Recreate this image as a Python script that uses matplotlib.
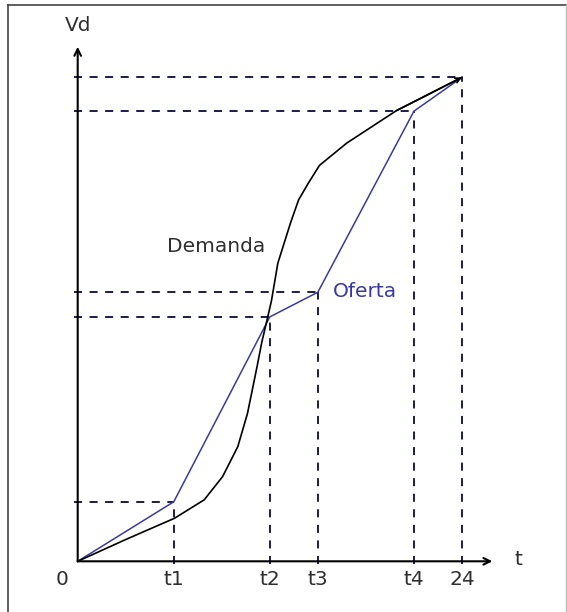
import matplotlib
matplotlib.use("Agg")
import matplotlib.pyplot as plt
from matplotlib.lines import Line2D

plt.rcParams['font.family'] = ['DejaVu Sans']
plt.rcParams['lines.scale_dashes'] = False

# ---- data ----
tick_labels = ["0", "t1", "t2", "t3", "t4", "24"]
tick_pos = [0, 6, 12, 15, 21, 24]

oferta_x = [0, 6, 12, 15, 21, 24]
oferta_y = [0, 12.3, 50.5, 55.6, 93.0, 100]

demanda_x = [0, 3, 6.05, 7.9, 9.05, 10.0, 10.6, 11.2, 11.5, 11.8, 12.1, 12.5,
             13.3, 13.8, 14.4, 15.1, 16.8, 19.9, 24]
demanda_y = [0, 4.5, 8.9, 12.7, 17.5, 23.7, 30.5, 40.2, 45.3, 49.5, 53.8, 61.6,
             70.0, 74.7, 78.1, 81.8, 86.4, 93.1, 100]

W, H = 567, 612
fig = plt.figure(figsize=(W / 100, H / 100), dpi=100)
ax = fig.add_axes([0, 0, 1, 1])
ax.set_xlim(-4.853, 30.56)
ax.set_ylim(-10.475, 115.97)
ax.axis('off')

# frame around the picture
fig.add_artist(Line2D([8 / W, 8 / W], [0, 1 - 5 / H], transform=fig.transFigure,
                      color='#444444', lw=1.2))
fig.add_artist(Line2D([8 / W, 566 / W], [1 - 5 / H, 1 - 5 / H], transform=fig.transFigure,
                      color='#444444', lw=1.2))
fig.add_artist(Line2D([566 / W, 566 / W], [0, 1 - 5 / H], transform=fig.transFigure,
                      color='#bbbbbb', lw=1.0))

dash_col = '#1c1c48'
dash = (0, (5.8, 5.4))

# guide lines
for xp, yp in zip(oferta_x[1:], oferta_y[1:]):
    ax.plot([-0.2, xp], [yp, yp], color=dash_col, lw=1.4, linestyle=dash)
    ax.plot([xp, xp], [-0.5, yp], color=dash_col, lw=1.4, linestyle=dash)

# axes with arrows
ax.annotate('', xy=(0, 106.3), xytext=(0, 0),
            arrowprops=dict(arrowstyle='->', lw=1.5, color='black',
                            shrinkA=0, shrinkB=0, mutation_scale=12))
ax.annotate('', xy=(25.9, 0), xytext=(0, 0),
            arrowprops=dict(arrowstyle='->', lw=1.5, color='black',
                            shrinkA=0, shrinkB=0, mutation_scale=12))

# curves
ax.plot(oferta_x, oferta_y, color='#3a3a9c', lw=1.1)
ax.plot(demanda_x, demanda_y, color='black', lw=1.2)
ax.annotate('', xy=(demanda_x[-1], demanda_y[-1]), xytext=(demanda_x[-2], demanda_y[-2]),
            arrowprops=dict(arrowstyle='->', lw=1.2, color='black',
                            shrinkA=0, shrinkB=0, mutation_scale=9))

txt_col = '#2e2e2e'
fs = 14.5
# tick labels
for p, lab in zip(tick_pos, tick_labels):
    xx = p - 1.0 if lab == "0" else p
    ax.text(xx, -3.76, lab, ha='center', va='center', fontsize=fs, color=txt_col)

ax.text(0, 110.8, "Vd", ha='center', va='center', fontsize=fs, color=txt_col)
ax.text(27.5, 0.3, "t", ha='center', va='center', fontsize=fs, color=txt_col)
ax.text(5.58, 65.1, "Demanda", ha='left', va='center', fontsize=fs, color=txt_col)
ax.text(15.95, 55.7, "Oferta", ha='left', va='center', fontsize=fs, color='#3a3aa0')

fig.savefig('out.png', dpi=100)
